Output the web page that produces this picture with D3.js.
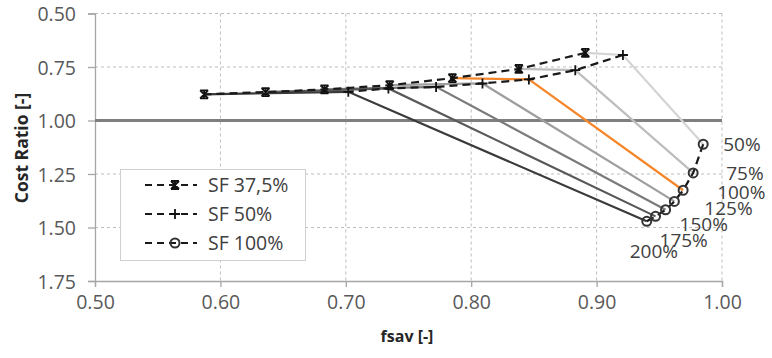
<!DOCTYPE html>
<html>
<head>
<meta charset="utf-8">
<script src="https://cdn.jsdelivr.net/npm/d3@7"></script>
<style>
  html, body { margin: 0; padding: 0; background: #fff; }
  svg { display: block; font-family: "Open Sans", "Liberation Sans", sans-serif; }
</style>
</head>
<body>
<svg id="chart" width="772" height="358"></svg>
<script>
// Storage-factor scenarios: each percentage has one point per SF series
const levels = ["50%", "75%", "100%", "125%", "150%", "175%", "200%"];

const sf375X = [0.891, 0.838, 0.785, 0.735, 0.683, 0.636, 0.587];
const sf375Y = [0.684, 0.759, 0.802, 0.835, 0.855, 0.867, 0.878];

const sf50X = [0.921, 0.883, 0.846, 0.809, 0.772, 0.734, 0.702];
const sf50Y = [0.694, 0.765, 0.808, 0.827, 0.843, 0.850, 0.866];

const sf100X = [0.985, 0.977, 0.969, 0.962, 0.955, 0.947, 0.940];
const sf100Y = [1.111, 1.245, 1.326, 1.378, 1.417, 1.448, 1.471];

const xTicks = [0.5, 0.6, 0.7, 0.8, 0.9, 1.0];
const yTicks = [0.5, 0.75, 1.0, 1.25, 1.5, 1.75];

const seriesNames = ["SF 37,5%", "SF 50%", "SF 100%"];

// ---- drawing ----
const svg = d3.select("#chart");
const x = d3.scaleLinear().domain([0.5, 1.0]).range([95, 722]);
const y = d3.scaleLinear().domain([0.5, 1.75]).range([13.5, 281]);

const levelColors = ["#d4d4d4", "#bdbdbd", "#f5862a", "#9e9e9e", "#7a7a7a", "#585858", "#3a3a3a"];
const labelOffsets = [[20, 0], [33, 0], [34, 2], [30, 7], [14, 14], [4, 24], [-17, 30]];

// gridlines
const grid = svg.append("g");
grid.selectAll("line.v").data(xTicks.slice(1)).join("line")
  .attr("x1", d => x(d)).attr("x2", d => x(d))
  .attr("y1", y(0.5)).attr("y2", y(1.75))
  .attr("stroke", "#bdbdbd").attr("stroke-width", 1).attr("stroke-dasharray", "3,3");
grid.selectAll("line.h").data(yTicks.filter(d => d !== 1.0 && d !== 1.75)).join("line")
  .attr("x1", x(0.5)).attr("x2", x(1.0))
  .attr("y1", d => y(d)).attr("y2", d => y(d))
  .attr("stroke", "#bdbdbd").attr("stroke-width", 1).attr("stroke-dasharray", "3,3");

// axes
const yAxis = d3.axisLeft(y).tickValues(yTicks).tickFormat(d3.format(".2f")).tickSizeOuter(0).tickSize(7).tickPadding(12);
const gy = svg.append("g").attr("transform", `translate(${x(0.5)},0)`).call(yAxis);
const xAxis = d3.axisBottom(x).tickValues(xTicks).tickFormat(d3.format(".2f")).tickSizeOuter(0).tickSize(6).tickPadding(8);
const gx = svg.append("g").attr("transform", `translate(0,${y(1.75)})`).call(xAxis);
[gx, gy].forEach(g => {
  g.select(".domain").attr("stroke", "#a6a6a6").attr("stroke-width", 1.3);
  g.selectAll(".tick line").attr("stroke", "#a6a6a6").attr("stroke-width", 1.3);
  g.selectAll(".tick text").attr("fill", "#595959").attr("font-size", 19.5)
    .attr("font-family", "'Open Sans', sans-serif");
});
gy.selectAll(".tick text").attr("dy", "0.36em");

// break-even reference line at a cost ratio of 1
svg.append("line")
  .attr("x1", x(0.5)).attr("x2", x(1.0))
  .attr("y1", y(1.0)).attr("y2", y(1.0))
  .attr("stroke", "#7f7f7f").attr("stroke-width", 3.2);

// connectors linking the same percentage across the three SF series
const lineGen = d3.line().x(d => x(d[0])).y(d => y(d[1]));
const connectors = levels.map((l, i) => ({
  i,
  pts: [[sf375X[i], sf375Y[i]], [sf50X[i], sf50Y[i]], [sf100X[i], sf100Y[i]]]
}));
svg.append("g").selectAll("path").data(connectors).join("path")
  .attr("d", d => lineGen(d.pts))
  .attr("fill", "none")
  .attr("stroke", d => levelColors[d.i])
  .attr("stroke-width", 2.2);

// dashed series lines
const series = [
  { name: seriesNames[0], marker: "star", pts: sf375X.map((v, i) => [v, sf375Y[i]]) },
  { name: seriesNames[1], marker: "plus", pts: sf50X.map((v, i) => [v, sf50Y[i]]) },
  { name: seriesNames[2], marker: "circle", pts: sf100X.map((v, i) => [v, sf100Y[i]]) }
];
svg.append("g").selectAll("path").data(series).join("path")
  .attr("d", d => lineGen(d.pts))
  .attr("fill", "none")
  .attr("stroke", "#1a1a1a")
  .attr("stroke-width", 2.2)
  .attr("stroke-dasharray", "8,5");

function drawMarker(g, type, cx, cy) {
  if (type === "star") {
    const s = 4;
    g.append("path")
      .attr("d", `M${cx - s},${cy - s}L${cx + s},${cy + s}M${cx - s},${cy + s}L${cx + s},${cy - s}M${cx},${cy - s}L${cx},${cy + s}M${cx - s},${cy - s}L${cx + s},${cy - s}M${cx - s},${cy + s}L${cx + s},${cy + s}`)
      .attr("stroke", "#111").attr("stroke-width", 1.8).attr("fill", "none");
  } else if (type === "plus") {
    const s = 5;
    g.append("path")
      .attr("d", `M${cx - s},${cy}L${cx + s},${cy}M${cx},${cy - s}L${cx},${cy + s}`)
      .attr("stroke", "#111").attr("stroke-width", 1.8).attr("fill", "none");
  } else {
    g.append("circle").attr("cx", cx).attr("cy", cy).attr("r", 4.5)
      .attr("fill", "none").attr("stroke", "#333").attr("stroke-width", 2);
  }
}

const markers = svg.append("g");
series.forEach(s => s.pts.forEach(p => drawMarker(markers, s.marker, x(p[0]), y(p[1]))));

// percentage labels next to the SF 100% points
svg.append("g").selectAll("text").data(levels).join("text")
  .attr("x", (d, i) => x(sf100X[i]) + labelOffsets[i][0])
  .attr("y", (d, i) => y(sf100Y[i]) + labelOffsets[i][1])
  .attr("dy", "0.36em")
  .attr("font-size", 19)
  .attr("fill", "#404040")
  .text(d => d);

// axis titles
svg.append("text")
  .attr("x", 407).attr("y", 336).attr("dy", "0.36em")
  .attr("text-anchor", "middle")
  .attr("font-weight", "bold").attr("font-size", 16).attr("fill", "#262626")
  .text("fsav [-]");
svg.append("text")
  .attr("transform", "translate(22,148) rotate(-90)")
  .attr("dy", "0.36em")
  .attr("text-anchor", "middle")
  .attr("font-weight", "bold").attr("font-size", 17.5).attr("fill", "#262626")
  .text("Cost Ratio [-]");

// legend
const lg = svg.append("g");
lg.append("rect").attr("x", 120.5).attr("y", 169.5).attr("width", 185).attr("height", 91)
  .attr("fill", "#fff").attr("stroke", "#d0d0d0").attr("stroke-width", 1);
const legendY = [185, 214, 243];
series.forEach((s, i) => {
  lg.append("line").attr("x1", 145).attr("x2", 197).attr("y1", legendY[i]).attr("y2", legendY[i])
    .attr("stroke", "#1a1a1a").attr("stroke-width", 2).attr("stroke-dasharray", "7,5");
  drawMarker(lg, s.marker, 175, legendY[i]);
  lg.append("text").attr("x", 208).attr("y", legendY[i]).attr("dy", "0.36em")
    .attr("font-size", 19.5).attr("fill", "#404040").text(s.name);
});
</script>
</body>
</html>
